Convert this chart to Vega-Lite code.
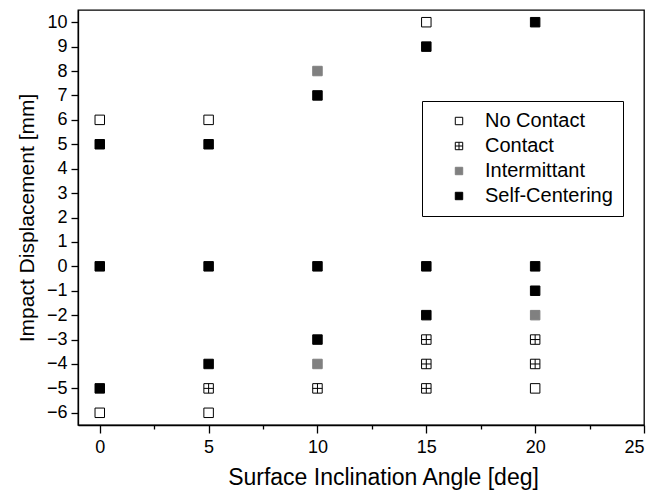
{
  "$schema": "https://vega.github.io/schema/vega-lite/v6.json",
  "width": 566,
  "height": 415,
  "autosize": "none",
  "padding": {"left": 78, "top": 10, "right": 11, "bottom": 65},
  "background": "white",
  "config": {
    "font": "Liberation Sans",
    "view": {"stroke": "black", "strokeWidth": 1.3},
    "axis": {
      "domainColor": "black", "domainWidth": 1.3, "tickColor": "black", "tickWidth": 1.3,
      "labelColor": "black", "titleColor": "black", "labelFont": "Liberation Sans", "titleFont": "Liberation Sans",
      "titleFontWeight": "normal", "grid": false
    }
  },
  "data": {
    "values": [
      {"angle": 0, "disp": 6, "type": "No Contact"},
      {"angle": 0, "disp": 5, "type": "Self-Centering"},
      {"angle": 0, "disp": 0, "type": "Self-Centering"},
      {"angle": 0, "disp": -5, "type": "Self-Centering"},
      {"angle": 0, "disp": -6, "type": "No Contact"},
      {"angle": 5, "disp": 6, "type": "No Contact"},
      {"angle": 5, "disp": 5, "type": "Self-Centering"},
      {"angle": 5, "disp": 0, "type": "Self-Centering"},
      {"angle": 5, "disp": -4, "type": "Self-Centering"},
      {"angle": 5, "disp": -5, "type": "Contact"},
      {"angle": 5, "disp": -6, "type": "No Contact"},
      {"angle": 10, "disp": 8, "type": "Intermittant"},
      {"angle": 10, "disp": 7, "type": "Self-Centering"},
      {"angle": 10, "disp": 0, "type": "Self-Centering"},
      {"angle": 10, "disp": -3, "type": "Self-Centering"},
      {"angle": 10, "disp": -4, "type": "Intermittant"},
      {"angle": 10, "disp": -5, "type": "Contact"},
      {"angle": 15, "disp": 10, "type": "No Contact"},
      {"angle": 15, "disp": 9, "type": "Self-Centering"},
      {"angle": 15, "disp": 0, "type": "Self-Centering"},
      {"angle": 15, "disp": -2, "type": "Self-Centering"},
      {"angle": 15, "disp": -3, "type": "Contact"},
      {"angle": 15, "disp": -4, "type": "Contact"},
      {"angle": 15, "disp": -5, "type": "Contact"},
      {"angle": 20, "disp": 10, "type": "Self-Centering"},
      {"angle": 20, "disp": 0, "type": "Self-Centering"},
      {"angle": 20, "disp": -1, "type": "Self-Centering"},
      {"angle": 20, "disp": -2, "type": "Intermittant"},
      {"angle": 20, "disp": -3, "type": "Contact"},
      {"angle": 20, "disp": -4, "type": "Contact"},
      {"angle": 20, "disp": -5, "type": "No Contact"}
    ]
  },
  "layer": [
    {
      "mark": {"type": "point", "filled": true, "size": 90, "strokeWidth": 1, "opacity": 1},
      "encoding": {
        "x": {
          "field": "angle", "type": "quantitative",
          "scale": {"domain": [-1, 25], "nice": false, "zero": false},
          "axis": {
            "values": [0, 5, 10, 15, 20, 25], "tickSize": 8, "labelFontSize": 18, "labelPadding": 5,
            "title": "Surface Inclination Angle [deg]", "titleFontSize": 23, "titlePadding": 10,
            "titleX": 305
          }
        },
        "y": {
          "field": "disp", "type": "quantitative",
          "scale": {"domain": [-6.5, 10.5], "nice": false, "zero": false},
          "axis": {
            "values": [-6, -5, -4, -3, -2, -1, 0, 1, 2, 3, 4, 5, 6, 7, 8, 9, 10], "tickSize": 7,
            "labelFontSize": 18, "labelPadding": 4,
            "title": "Impact Displacement [mm]", "titleFontSize": 21, "titlePadding": 9
          }
        },
        "shape": {
          "field": "type", "type": "nominal",
          "scale": {
            "domain": ["No Contact", "Contact", "Intermittant", "Self-Centering"],
            "range": ["square", "M-1,-1H1V1H-1Z M0,-1V1 M-1,0H1", "square", "square"]
          },
          "legend": {
            "title": null, "orient": "none", "legendX": 344, "legendY": 91,
            "strokeColor": "black", "padding": 10, "symbolOffset": 17,
            "labelFontSize": 20, "labelOffset": 16, "rowPadding": 5, "symbolSize": 55,
            "labelColor": "black", "labelFont": "Liberation Sans", "symbolStrokeWidth": 1
          }
        },
        "fill": {
          "field": "type", "type": "nominal",
          "scale": {
            "domain": ["No Contact", "Contact", "Intermittant", "Self-Centering"],
            "range": ["white", "white", "#808080", "black"]
          }
        },
        "stroke": {
          "field": "type", "type": "nominal",
          "scale": {
            "domain": ["No Contact", "Contact", "Intermittant", "Self-Centering"],
            "range": ["black", "black", "#808080", "black"]
          }
        }
      }
    },
    {
      "mark": {"type": "point", "opacity": 0},
      "encoding": {
        "x": {
          "field": "angle", "type": "quantitative",
          "axis": {
            "orient": "bottom", "values": [2.5, 7.5, 12.5, 17.5, 22.5], "tickSize": 4,
            "labels": false, "domain": false, "title": null
          }
        }
      }
    }
  ],
  "resolve": {"axis": {"x": "independent"}}
}
